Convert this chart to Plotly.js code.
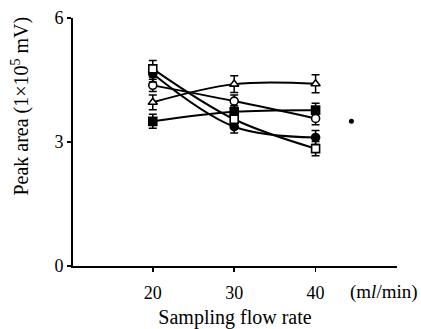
<!DOCTYPE html>
<html>
<head>
<meta charset="utf-8">
<script src="https://cdn.plot.ly/plotly-3.0.1.min.js"></script>
<style>html,body{margin:0;padding:0;background:#fff;}#chart{width:421px;height:329px;}</style>
</head>
<body>
<div id="chart"></div>
<script>
const flowRates = [20, 30, 40];
const triangleOpen = [3.96, 4.40, 4.41];
const triangleErr = [0.18, 0.2, 0.22];
const squareFilled = [3.50, 3.73, 3.77];
const squareFilledErr = [0.17, 0.15, 0.17];
const circleOpen = [4.37, 3.99, 3.57];
const circleOpenErr = [0.15, 0.15, 0.15];
const circleFilled = [4.65, 3.37, 3.11];
const circleFilledErr = [0.2, 0.15, 0.17];
const squareOpen = [4.77, 3.55, 2.84];
const squareOpenErr = [0.2, 0.2, 0.17];
const strayX = [44.4];
const strayY = [3.50];
const xTicks = [20, 30, 40];
const yTicks = [0, 3, 6];

function series(y, err, symbol, filled) {
  return {
    x: flowRates, y: y, type: 'scatter', mode: 'lines+markers',
    line: {shape: 'spline', smoothing: 1, color: '#000', width: 2},
    marker: {symbol: symbol, size: 8, color: filled ? '#000' : '#fff',
             line: {color: '#000', width: 1.6}},
    error_y: {type: 'data', array: err, visible: true, color: '#000', thickness: 1.5, width: 4},
    showlegend: false, cliponaxis: false
  };
}
const data = [
  series(triangleOpen, triangleErr, 'triangle-up', false),
  series(squareFilled, squareFilledErr, 'square', true),
  series(circleOpen, circleOpenErr, 'circle', false),
  series(circleFilled, circleFilledErr, 'circle', true),
  series(squareOpen, squareOpenErr, 'square', false),
  {x: strayX, y: strayY, type: 'scatter', mode: 'markers',
   marker: {symbol: 'circle', size: 5, color: '#000'}, showlegend: false}
];

const serif = '"Liberation Serif", "DejaVu Serif", serif';
const tickFont = {family: serif, color: '#000', size: 18};
const titleFont = {family: serif, color: '#000', size: 20};
const layout = {
  width: 421, height: 329,
  margin: {l: 73, r: 24, t: 18, b: 63},
  paper_bgcolor: '#fff', plot_bgcolor: '#fff',
  font: tickFont,
  showlegend: false,
  xaxis: {
    range: [10.2, 50], tickvals: xTicks, ticktext: xTicks.map(String),
    showgrid: false, zeroline: false, showline: true, linecolor: '#000', linewidth: 2,
    ticks: 'outside', ticklen: 4, tickwidth: 1.5, tickcolor: '#000',
    tickfont: tickFont, ticklabelstandoff: 5,
    title: {text: 'Sampling flow rate', font: titleFont, standoff: 8}
  },
  yaxis: {
    range: [0, 6], tickvals: yTicks, ticktext: yTicks.map(String),
    showgrid: false, zeroline: false, showline: true, linecolor: '#000', linewidth: 2,
    ticks: 'outside', ticklen: 4, tickwidth: 1.5, tickcolor: '#000',
    tickfont: tickFont
  },
  annotations: [
    {text: '(m<i>l</i>/min)', xref: 'paper', yref: 'paper', x: 1.07, y: 0,
     xanchor: 'right', yanchor: 'top', yshift: -13, showarrow: false, font: {family: serif, color: '#000', size: 19}},
    {text: 'Peak area (1×10<sup>5</sup> mV)', xref: 'paper', yref: 'paper', x: -0.165, y: 0.645,
     xanchor: 'center', yanchor: 'middle', textangle: -90, showarrow: false, font: titleFont}
  ]
};
Plotly.newPlot('chart', data, layout, {displayModeBar: false, staticPlot: true});
</script>
</body>
</html>
